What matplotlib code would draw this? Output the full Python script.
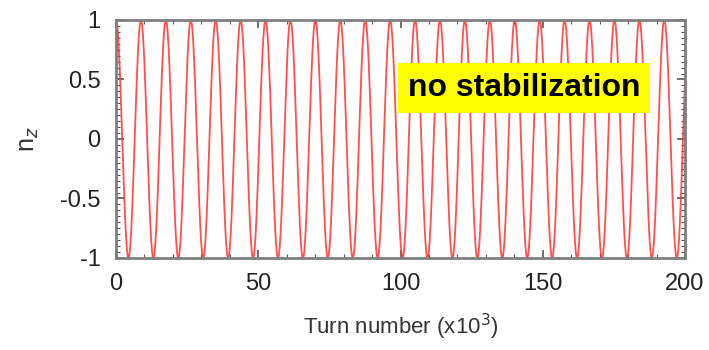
import numpy as np
import matplotlib
matplotlib.use("Agg")
import matplotlib.pyplot as plt
from matplotlib.ticker import MultipleLocator

# positions of the maxima of n_z (x10^3 turns)
peak_turns = [0.0, 8.76, 17.52, 26.28, 35.04, 43.80, 52.56, 61.32, 70.08,
              78.84, 87.60, 96.36, 105.12, 113.88, 122.64, 131.40, 140.16,
              148.92, 157.68, 166.44, 175.20, 183.96, 192.72]
peak_value = 1.0
turn_max = 200

x_ticks = [0, 50, 100, 150, 200]
y_ticks = [-1, -0.5, 0, 0.5, 1]
y_ticklabels = ["-1", "-0.5", "0", "0.5", "1"]

# curve between the read maxima: one full swing per interval
turns = np.linspace(0, turn_max, 6000)
idx = np.arange(len(peak_turns))
step = peak_turns[-1] - peak_turns[-2]
phase = np.interp(turns, peak_turns, idx)
beyond = turns > peak_turns[-1]
phase[beyond] = idx[-1] + (turns[beyond] - peak_turns[-1]) / step
nz = peak_value * np.cos(2 * np.pi * phase)

plt.rcParams['font.family'] = ['Liberation Sans Narrow', 'Liberation Sans', 'DejaVu Sans']

fig = plt.figure(figsize=(7.09, 3.5), dpi=100)
ax = fig.add_axes([116 / 709, 1 - 258 / 350, 569 / 709, 238 / 350])

ax.plot(turns, nz, color='#ff3030', lw=1.3, alpha=0.85)

ax.set_xlim(0, turn_max)
ax.set_ylim(-1, 1)
ax.set_xticks(x_ticks)
ax.set_yticks(y_ticks)
ax.set_yticklabels(y_ticklabels)
ax.xaxis.set_minor_locator(MultipleLocator(10))
ax.yaxis.set_minor_locator(MultipleLocator(0.05))
ax.tick_params(which='both', direction='in', top=True, right=True,
               colors='#555555', labelcolor='#222222')
ax.tick_params(which='major', length=6, width=1.2, labelsize=17, pad=11)
ax.tick_params(which='minor', length=3, width=0.8)
for s in ax.spines.values():
    s.set_color('#7f7f7f')
    s.set_linewidth(2)

ax.set_xlabel('Turn number (x10$^3$)', fontsize=16, color='#333333', labelpad=12)
ax.set_ylabel('n$_z$', fontsize=18, color='#333333', labelpad=14)

ax.text(0.717, 0.714, 'no stabilization', transform=ax.transAxes,
        fontsize=23, fontweight='bold', color='black', ha='center', va='center',
        family=['Liberation Sans', 'DejaVu Sans'],
        bbox=dict(boxstyle='square,pad=0.3', fc='#ffff00', ec='none'))

fig.savefig('out.png', dpi=100)
